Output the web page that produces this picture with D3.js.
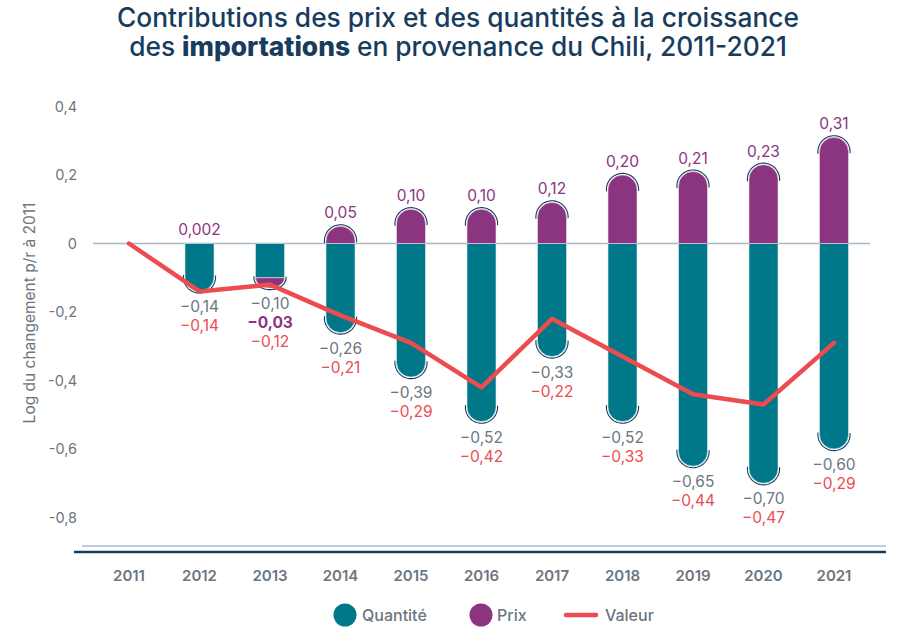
<!DOCTYPE html>
<html><head><meta charset="utf-8">
<script src="https://cdn.jsdelivr.net/npm/d3@7/dist/d3.min.js"></script>
<style>
body{margin:0;background:#fff;}
svg{display:block;font-family:Inter, Lato, "Open Sans", sans-serif;}
</style></head>
<body><svg id="c" width="917" height="642"></svg>
<script>
const years = [2011,2012,2013,2014,2015,2016,2017,2018,2019,2020,2021];
const barYears = [2012,2013,2014,2015,2016,2017,2018,2019,2020,2021];
const quantite = [-0.14,-0.10,-0.26,-0.39,-0.52,-0.33,-0.52,-0.65,-0.70,-0.60];
const prix = [0.002,-0.03,0.05,0.10,0.10,0.12,0.20,0.21,0.23,0.31];
const valeur = [0,-0.14,-0.12,-0.21,-0.29,-0.42,-0.22,-0.33,-0.44,-0.47,-0.29];
const yTicks = [0.4,0.2,0,-0.2,-0.4,-0.6,-0.8];
const titleLine1 = "Contributions des prix et des quantités à la croissance";
const titleLine2 = ["des ","importations"," en provenance du Chili, 2011-2021"];
const yTitle = "Log du changement p/r à 2011";
const legendItems = ["Quantité","Prix","Valeur"];

const C = {teal:"#00788a", purple:"#8b3580", red:"#ec4c50", gray:"#6b7680", navy:"#183c5e", zero:"#a9b8c4"};
const svg = d3.select("#c");
const x = d3.scalePoint().domain(years).range([129,834]);
const y = d3.scaleLinear().domain([-0.8,0.4]).range([517.5,106.5]);
const bw = 29, r = bw/2, gap = 1.6;

const fmt = v => {
  const s = Math.abs(v) < 0.01 && v !== 0 ? Math.abs(v).toFixed(3) : Math.abs(v).toFixed(2);
  return (v < 0 ? "\u2212" : "") + s.replace(".", ",");
};
const fmtTick = v => v === 0 ? "0" : d3.format(".1f")(v).replace(".", ",").replace("\u2212","-");

// title
const t1 = svg.append("text").attr("x",458).attr("y",27).attr("text-anchor","middle")
  .attr("fill",C.navy).attr("font-weight",500).attr("font-size",24).text(titleLine1);
const w1 = t1.node().getComputedTextLength();
const fs = 24*682/w1;
t1.attr("font-size",fs);
const t2 = svg.append("text").attr("x",458).attr("y",56).attr("text-anchor","middle")
  .attr("fill",C.navy).attr("font-weight",500).attr("font-size",fs);
titleLine2.forEach((s,i)=>t2.append("tspan").attr("font-weight",i===1?800:500).text(s));

// y axis ticks
svg.append("g").selectAll("text").data(yTicks).join("text")
  .attr("x",77).attr("y",d=>y(d)+5).attr("text-anchor","end")
  .attr("fill",C.gray).attr("font-size",14.5).text(fmtTick);
svg.append("text").attr("transform","translate(35,313) rotate(-90)").attr("text-anchor","middle")
  .attr("fill",C.gray).attr("font-size",15.5).text(yTitle);

// zero line
svg.append("line").attr("x1",93).attr("x2",870).attr("y1",y(0)).attr("y2",y(0))
  .attr("stroke",C.zero).attr("stroke-width",1.5);

function barPath(cx, v0, v1, rounded){
  const y0 = y(v0), y1 = y(v1);
  const h = Math.abs(y1-y0), dir = y1 < y0 ? -1 : 1;
  const L = cx-bw/2, R = cx+bw/2;
  if(!rounded) return `M${L},${y0}V${y1}H${R}V${y0}Z`;
  const ry = Math.min(r,h);
  const yc = y1 - dir*ry;
  const sweep = dir < 0 ? 1 : 0;
  return `M${L},${y0}V${yc}A${r},${ry} 0 0 ${sweep} ${R},${yc}V${y0}Z`;
}
function capArc(cx, v0, v1){
  const y0 = y(v0), y1 = y(v1);
  const h = Math.abs(y1-y0), dir = y1 < y0 ? -1 : 1;
  const ry = Math.min(r,h);
  const yc = y1 - dir*ry;
  const angles = d3.range(-97,97.1,4).map(a=>a*Math.PI/180);
  return d3.line()(angles.map(a=>[cx+(r+gap)*Math.sin(a), yc+dir*(ry+gap)*Math.cos(a)]));
}

const gb = svg.append("g");
barYears.forEach((yr,i)=>{
  const cx = x(yr), q = quantite[i], p = prix[i];
  const pNeg = p < 0;
  gb.append("path").attr("d",barPath(cx,0,q,!pNeg)).attr("fill",C.teal)
    .attr("stroke","#dfe9ec").attr("stroke-width",0.6);
  let pStart = pNeg ? q : 0, pEnd = pNeg ? q+p : p;
  if(Math.abs(y(pEnd)-y(pStart))>1.5)
    gb.append("path").attr("d",barPath(cx,pStart,pEnd,true)).attr("fill",C.purple)
      .attr("stroke","#ece0ea").attr("stroke-width",0.6);
  const negEnd = pNeg ? q+p : q;
  gb.append("path").attr("d",capArc(cx,pNeg?q:0,negEnd)).attr("fill","none").attr("stroke",C.navy).attr("stroke-width",1.1);
  if(!pNeg && Math.abs(y(p)-y(0))>3)
    gb.append("path").attr("d",capArc(cx,0,p)).attr("fill","none").attr("stroke",C.navy).attr("stroke-width",1.1);
  const bottom = y(negEnd);
  let ly = bottom + 21;
  svg.append("text").attr("x",cx).attr("y",ly).attr("text-anchor","middle").attr("fill",C.gray).attr("font-size",15.5).text(fmt(q));
  if(pNeg){
    ly += 19;
    svg.append("text").attr("x",cx).attr("y",ly).attr("text-anchor","middle").attr("fill",C.purple).attr("font-weight",700).attr("font-size",15.5).text(fmt(p));
  } else {
    svg.append("text").attr("x",cx).attr("y",Math.min(y(p),y(0))-8).attr("text-anchor","middle").attr("fill",C.purple).attr("font-size",15.5).text(fmt(p));
  }
  svg.append("text").attr("x",cx).attr("y",ly+19).attr("text-anchor","middle").attr("fill",C.red).attr("font-size",15.5).text(fmt(valeur[i+1]));
});

// valeur line
svg.append("path").datum(valeur).attr("fill","none").attr("stroke",C.red).attr("stroke-width",4.5)
  .attr("stroke-linejoin","round").attr("stroke-linecap","round")
  .attr("d",d3.line().x((d,i)=>x(years[i])).y(d=>y(d)));

// bottom lines
svg.append("line").attr("x1",82).attr("x2",886).attr("y1",546).attr("y2",546).attr("stroke","#7f9bb3").attr("stroke-width",1);
svg.append("line").attr("x1",74).attr("x2",886).attr("y1",552).attr("y2",552).attr("stroke",C.navy).attr("stroke-width",2.5);

// year labels
svg.append("g").selectAll("text").data(years).join("text")
  .attr("x",d=>x(d)).attr("y",581).attr("text-anchor","middle").attr("fill",C.gray)
  .attr("font-size",15).attr("font-weight",600).text(d=>d);

// legend
const lg = svg.append("g");
lg.append("circle").attr("cx",345).attr("cy",615).attr("r",11.5).attr("fill",C.teal);
lg.append("text").attr("x",362).attr("y",621).attr("fill",C.gray).attr("font-size",16).attr("font-weight",500).text(legendItems[0]);
lg.append("circle").attr("cx",481).attr("cy",615).attr("r",11.5).attr("fill",C.purple);
lg.append("text").attr("x",497).attr("y",621).attr("fill",C.gray).attr("font-size",16).attr("font-weight",500).text(legendItems[1]);
lg.append("line").attr("x1",566).attr("x2",596).attr("y1",615).attr("y2",615).attr("stroke",C.red).attr("stroke-width",4.5).attr("stroke-linecap","round");
lg.append("text").attr("x",605).attr("y",621).attr("fill",C.gray).attr("font-size",16).attr("font-weight",500).text(legendItems[2]);
</script></body></html>
